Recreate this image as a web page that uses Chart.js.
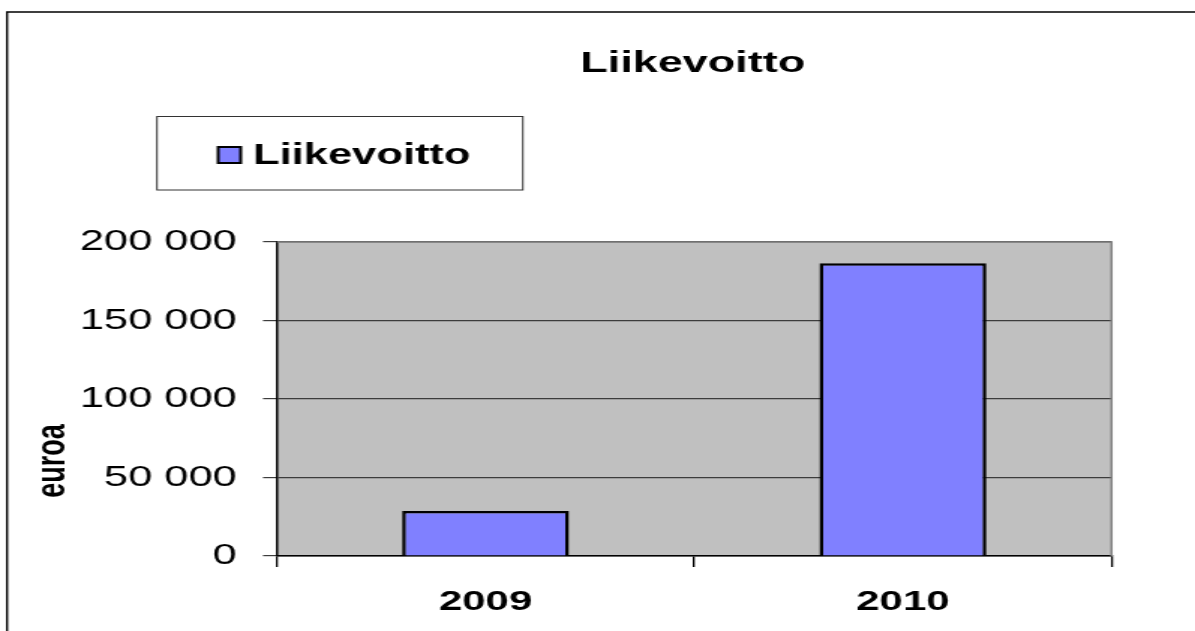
<!DOCTYPE html>
<html>
<head>
<meta charset="utf-8">
<script src="https://cdn.jsdelivr.net/npm/chart.js@4"></script>
<style>
  html, body { margin: 0; padding: 0; background: #fff; overflow: hidden; }
  /* the reference is stretched sideways, so draw narrow and widen */
  .stretch { position: absolute; left: 0; top: 0; width: 797px; height: 631px; transform: scaleX(1.4994); transform-origin: 0 0; }
</style>
</head>
<body>
<div class="stretch"><canvas id="chart"></canvas></div>
<script>
const years = ["2009", "2010"]
const profit = [28700, 186500]
const yTicks = [0, 50000, 100000, 150000, 200000]
const seriesName = "Liikevoitto"
const chartTitle = "Liikevoitto"
const yTitle = "euroa"

const FONT = "'Liberation Sans', Arial, sans-serif"

function spaced(v) {
    return String(v).replace(/\B(?=(\d{3})+(?!\d))/g, " ")
}

const frame = {
    id: "frame",
    beforeDraw(chart) {
        const { ctx, chartArea: a } = chart
        ctx.save()
        ctx.fillStyle = "#c0c0c0"
        ctx.fillRect(a.left, a.top, a.right - a.left, a.bottom - a.top)
        // outer border (left + top only visible)
        ctx.strokeStyle = "#000"
        ctx.lineWidth = 1.4
        ctx.beginPath()
        ctx.moveTo(4.7, 700)
        ctx.lineTo(4.7, 12)
        ctx.lineTo(900, 12)
        ctx.stroke()
        ctx.restore()
    },
    afterDraw(chart) {
        const { ctx, chartArea: a } = chart
        const ds = chart.data.datasets[0]
        ctx.save()
        ctx.strokeStyle = "#808080"
        ctx.lineWidth = 1.5
        ctx.beginPath()
        ctx.moveTo(a.left, a.top)
        ctx.lineTo(a.right, a.top)
        ctx.lineTo(a.right, a.bottom)
        ctx.stroke()

        ctx.fillStyle = "#000"
        ctx.font = "bold 30px " + FONT
        ctx.textAlign = "center"
        ctx.textBaseline = "alphabetic"
        ctx.fillText(chartTitle, 462, 72)

        // legend
        ctx.strokeStyle = "#333"
        ctx.lineWidth = 1
        ctx.strokeRect(104.7, 116.5, 244, 73.5)
        ctx.fillStyle = ds.backgroundColor
        ctx.fillRect(145.5, 147, 15, 16)
        ctx.strokeStyle = "#000"
        ctx.lineWidth = 2
        ctx.strokeRect(145.5, 147, 15, 16)
        ctx.fillStyle = "#000"
        ctx.font = "bold 29px " + FONT
        ctx.textAlign = "left"
        ctx.fillText(ds.label, 168.7, 164)

        // y axis title
        ctx.translate(35.5, 461)
        ctx.rotate(-Math.PI / 2)
        ctx.font = "bold 27px " + FONT
        ctx.textAlign = "center"
        ctx.textBaseline = "middle"
        ctx.fillText(yTitle, 0, 0)
        ctx.restore()
    }
}

new Chart(document.getElementById("chart"), {
    type: "bar",
    data: {
        labels: years,
        datasets: [{
            label: seriesName,
            data: profit,
            backgroundColor: "#8080ff",
            borderColor: "#000",
            borderWidth: 2.5,
            barPercentage: 0.8,
            categoryPercentage: 0.5
        }]
    },
    options: {
        responsive: true,
        maintainAspectRatio: false,
        animation: false,
        layout: { padding: { top: 242, right: 55.7, bottom: 0, left: 0 } },
        plugins: {
            legend: { display: false },
            title: { display: false },
            tooltip: { enabled: false }
        },
        scales: {
            x: {
                grid: { drawOnChartArea: false, tickLength: 11, color: "#000", lineWidth: 1.3 },
                border: { color: "#000", width: 1.5 },
                ticks: { color: "#000", padding: 18, font: { family: FONT, size: 28, weight: "bold" } },
                afterFit(s) { s.height = 75 }
            },
            y: {
                min: 0,
                max: 200000,
                afterBuildTicks(s) { s.ticks = yTicks.map(v => ({ value: v })) },
                grid: { color: "#3c3c3c", lineWidth: 1.2, tickLength: 9.3 },
                border: { color: "#000", width: 1.5 },
                ticks: { color: "#000", padding: 17.4, font: { family: FONT, size: 29 }, callback: v => spaced(v) },
                afterFit(s) { s.width = 184.7 }
            }
        }
    },
    plugins: [frame]
})
</script>
</body>
</html>
